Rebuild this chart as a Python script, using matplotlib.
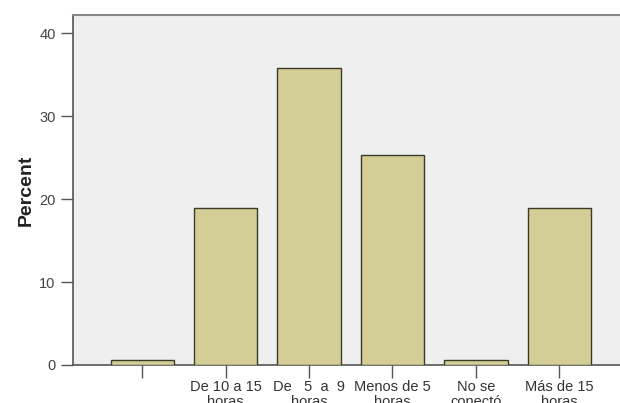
import matplotlib
matplotlib.use("Agg")
import matplotlib.pyplot as plt
import numpy as np

categories = [
    "",
    "De 10 a 15\nhoras",
    "De   5  a  9\nhoras",
    "Menos de 5\nhoras",
    "No se\nconectó",
    "Más de 15\nhoras",
]
percent = [0.6, 18.9, 35.8, 25.3, 0.6, 18.9]
y_ticks = [0, 10, 20, 30, 40]

plt.rcParams["font.family"] = ["Liberation Sans", "DejaVu Sans"]

fig = plt.figure(figsize=(6.2, 4.03), dpi=100)
ax = fig.add_axes([0.1177, 0.0943, 0.896, 0.8685])
ax.set_facecolor("#efefef")

x = np.arange(len(categories))
ax.bar(x, percent, width=0.76, color="#d3ce96", edgecolor="#3a3a2a", linewidth=1.0, zorder=3)

ax.set_xlim(-0.83, 5.83)
ax.set_ylim(0, 42.2)
ax.set_xticks(x)
ax.set_xticklabels(categories, fontsize=10.5, color="#333333", linespacing=1.05)
ax.set_yticks(y_ticks)
ax.set_yticklabels([str(v) for v in y_ticks], fontsize=10.5, color="#444444")
ax.tick_params(axis="both", direction="out", length=9, width=1, color="#555555")
ax.tick_params(axis="x", pad=2)

ax.set_ylabel("Percent", fontsize=14, fontweight="bold", color="#222222", labelpad=3)

for side in ["left", "bottom"]:
    ax.spines[side].set_color("#555555")
    ax.spines[side].set_linewidth(1.2)
ax.spines["top"].set_color("#888888")
ax.spines["top"].set_linewidth(1.5)
ax.spines["right"].set_visible(False)

fig.savefig("out.png", dpi=100, facecolor="white")
